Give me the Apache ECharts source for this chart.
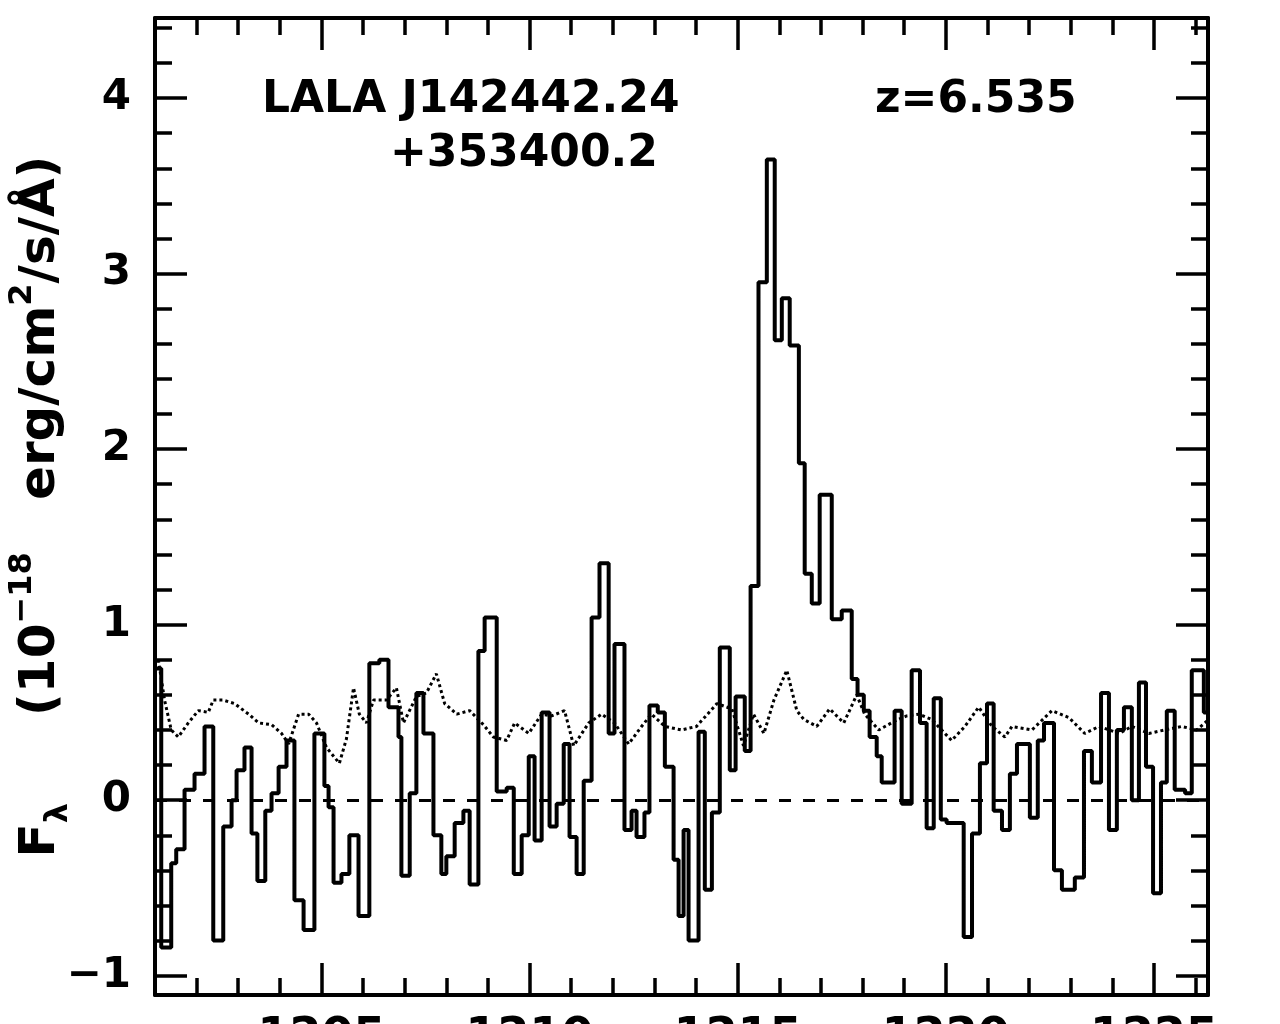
<!DOCTYPE html>
<html>
<head>
<meta charset="utf-8">
<script src="https://cdn.jsdelivr.net/npm/echarts@6/dist/echarts.min.js"></script>
<style>html,body{margin:0;padding:0;background:#fff}#c{width:1280px;height:1024px}</style>
</head>
<body>
<div id="c"></div>
<script>
// Rest-frame wavelength (Å) at the start of each step, and flux (1e-18 erg/cm2/s/Å)
const wavelength = [1201.00,1201.15,1201.39,1201.51,1201.71,1201.95,1202.19,1202.40,1202.64,1202.84,
1202.96,1203.15,1203.32,1203.46,1203.65,1203.80,1203.97,1204.16,1204.35,1204.57,
1204.83,1205.07,1205.17,1205.29,1205.48,1205.67,1205.89,1206.15,1206.39,1206.61,
1206.85,1206.92,1207.12,1207.28,1207.45,1207.69,1207.88,1208.00,1208.20,1208.41,
1208.56,1208.77,1208.92,1209.21,1209.45,1209.62,1209.81,1209.98,1210.12,1210.29,
1210.48,1210.65,1210.82,1210.96,1211.13,1211.30,1211.49,1211.68,1211.90,1212.04,
1212.28,1212.45,1212.57,1212.76,1212.88,1213.08,1213.25,1213.46,1213.58,1213.70,
1213.82,1214.06,1214.21,1214.38,1214.57,1214.81,1214.95,1215.17,1215.31,1215.50,
1215.70,1215.89,1216.06,1216.25,1216.47,1216.61,1216.78,1216.97,1217.26,1217.50,
1217.74,1217.88,1218.03,1218.17,1218.34,1218.46,1218.77,1218.94,1219.18,1219.38,
1219.54,1219.71,1219.88,1220.02,1220.43,1220.63,1220.82,1220.99,1221.15,1221.35,
1221.54,1221.71,1222.02,1222.21,1222.36,1222.60,1222.79,1223.10,1223.32,1223.51,
1223.73,1223.92,1224.11,1224.28,1224.47,1224.64,1224.81,1224.98,1225.17,1225.31,
1225.50,1225.75,1225.91,1226.20,1226.30];
const flux = [0.75,-0.84,-0.36,-0.28,0.06,0.15,0.42,-0.80,-0.15,0.00,
0.17,0.30,-0.19,-0.46,-0.06,0.04,0.19,0.34,-0.57,-0.74,
0.38,0.08,-0.04,-0.47,-0.42,-0.20,-0.66,0.78,0.80,0.53,
0.36,-0.43,0.04,0.61,0.38,-0.20,-0.42,-0.32,-0.13,-0.06,
-0.48,0.85,1.04,0.05,0.07,-0.42,-0.20,0.25,-0.23,0.50,
-0.15,-0.02,0.32,-0.21,-0.42,0.11,1.04,1.35,0.38,0.89,
-0.17,-0.06,-0.21,-0.07,0.54,0.50,0.19,-0.34,-0.66,-0.17,
-0.80,0.39,-0.51,-0.07,0.87,0.17,0.59,0.28,1.22,2.95,
3.65,2.62,2.86,2.59,1.92,1.29,1.12,1.74,1.03,1.08,
0.69,0.60,0.51,0.36,0.25,0.10,0.51,-0.02,0.74,0.44,
-0.16,0.58,-0.11,-0.13,-0.78,-0.19,0.21,0.55,-0.06,-0.17,
0.15,0.32,-0.10,0.34,0.44,-0.40,-0.51,-0.44,0.28,0.10,
0.61,-0.17,0.40,0.53,0.00,0.67,0.19,-0.53,0.10,0.51,
0.06,0.04,0.74,0.50,0.50];
// Noise spectrum (dotted)
const noiseWave = [1201.08,1201.23,1201.39,1201.56,1201.80,1202.04,1202.28,1202.40,1202.64,1202.91,
1203.25,1203.49,1203.80,1204.04,1204.21,1204.45,1204.69,1204.88,1205.12,1205.43,
1205.60,1205.77,1205.91,1206.08,1206.25,1206.56,1206.80,1206.97,1207.28,1207.52,
1207.76,1207.96,1208.25,1208.56,1208.89,1209.13,1209.45,1209.64,1209.98,1210.29,
1210.53,1210.84,1211.06,1211.42,1211.73,1212.04,1212.38,1212.69,1212.93,1213.25,
1213.65,1214.01,1214.50,1214.86,1215.14,1215.38,1215.63,1215.87,1216.18,1216.42,
1216.59,1216.90,1217.21,1217.55,1217.86,1218.05,1218.39,1218.77,1219.06,1219.35,
1219.66,1220.14,1220.46,1220.79,1221.11,1221.42,1221.59,1222.07,1222.55,1222.96,
1223.34,1223.68,1224.16,1224.47,1224.88,1225.26,1225.67,1226.03,1226.27];
const noiseFlux = [0.80,0.57,0.40,0.36,0.44,0.51,0.50,0.57,0.57,0.55,
0.49,0.44,0.43,0.38,0.32,0.49,0.49,0.44,0.30,0.21,
0.35,0.64,0.49,0.44,0.57,0.57,0.64,0.44,0.59,0.61,
0.72,0.55,0.49,0.51,0.43,0.36,0.34,0.44,0.38,0.49,
0.48,0.51,0.31,0.44,0.49,0.44,0.32,0.42,0.49,0.42,
0.40,0.42,0.55,0.52,0.31,0.49,0.38,0.57,0.74,0.51,
0.46,0.42,0.52,0.44,0.60,0.49,0.40,0.45,0.48,0.49,
0.46,0.34,0.42,0.53,0.42,0.36,0.42,0.40,0.51,0.47,
0.38,0.42,0.38,0.42,0.38,0.40,0.42,0.40,0.45];
const xTickLabels = [1205,1210,1215,1220,1225];
const yTickLabels = [-1,0,1,2,3,4];
const xRange = [1201.0, 1226.3];
const yRange = [-1.11, 4.456];

const FONT = 'DejaVu Sans';
const chart = echarts.init(document.getElementById('c'), null, {renderer:'canvas'});
function axisCommon(min, max){
  return {
    type:'value', min:min, max:max, scale:false,
    axisLine:{show:true, onZero:false, lineStyle:{color:'#000', width:4}},
    axisTick:{show:true, inside:true, length:32, lineStyle:{color:'#000', width:3.5}},
    minorTick:{show:true, splitNumber:5, length:17, lineStyle:{color:'#000', width:3.5}},
    splitLine:{show:false}, minorSplitLine:{show:false}
  };
}
const xb = Object.assign(axisCommon(xRange[0], xRange[1]), {position:'bottom',
  axisLabel:{show:true, margin:20, fontSize:46, fontWeight:'bold', fontFamily:FONT, color:'#000',
    formatter:v => xTickLabels.indexOf(Math.round(v*1000)/1000) >= 0 ? String(v) : ''}});
const xt = Object.assign(axisCommon(xRange[0], xRange[1]), {position:'top', axisLabel:{show:false}});
const yl = Object.assign(axisCommon(yRange[0], yRange[1]), {position:'left',
  axisLabel:{show:true, margin:24, fontSize:42, fontWeight:'bold', fontFamily:FONT, color:'#000',
    formatter:v => yTickLabels.indexOf(Math.round(v*1000)/1000) >= 0 ? (v < 0 ? '−' + (-v) : String(v)) : ''},
  name:'{a|F}{sub|λ}{a|     (10}{sup|−18}{a|   erg/cm}{sup|2}{a|/s/Å)}',
  nameLocation:'middle', nameRotate:90, nameGap:80, nameMoveOverlap:false,
  nameTextStyle:{fontFamily:FONT, fontWeight:'bold', color:'#000', fontSize:50,
    rich:{
      a:{fontFamily:FONT, fontWeight:'bold', fontSize:50, color:'#000', lineHeight:68, verticalAlign:'middle'},
      sub:{fontFamily:FONT, fontWeight:'bold', fontSize:32, color:'#000', lineHeight:32, verticalAlign:'bottom'},
      sup:{fontFamily:FONT, fontWeight:'bold', fontSize:32, color:'#000', lineHeight:32, verticalAlign:'top'}
    }}});
const yr = Object.assign(axisCommon(yRange[0], yRange[1]), {position:'right', axisLabel:{show:false}});

chart.setOption({
  animation:false,
  backgroundColor:'#fff',
  grid:{left:155, right:72, top:18, bottom:29, containLabel:false, outerBoundsMode:'none'},
  xAxis:[xb, xt],
  yAxis:[yl, yr],
  series:[
    {type:'line', name:'noise', xAxisIndex:0, yAxisIndex:0,
     data: noiseWave.map((w,i)=>[w, noiseFlux[i]]),
     symbol:'none', smooth:false,
     lineStyle:{color:'#000', width:3, type:[3,3]}},
    {type:'line', name:'flux', xAxisIndex:0, yAxisIndex:0,
     data: wavelength.map((w,i)=>[w, flux[i]]),
     step:'end', symbol:'none',
     lineStyle:{color:'#000', width:4},
     markLine:{silent:true, symbol:'none', label:{show:false},
       lineStyle:{color:'#000', width:3, type:[12,12]},
       data:[{yAxis:0}]}}
  ],
  graphic:[
    {type:'text', x:262, y:101, style:{text:'LALA J142442.24', font:'bold 44px "DejaVu Sans"', fill:'#000', align:'left', verticalAlign:'middle'}},
    {type:'text', x:390, y:155, style:{text:'+353400.2', font:'bold 44px "DejaVu Sans"', fill:'#000', align:'left', verticalAlign:'middle'}},
    {type:'text', x:875, y:101, style:{text:'z=6.535', font:'bold 44px "DejaVu Sans"', fill:'#000', align:'left', verticalAlign:'middle'}}
  ]
});
</script>
</body>
</html>
